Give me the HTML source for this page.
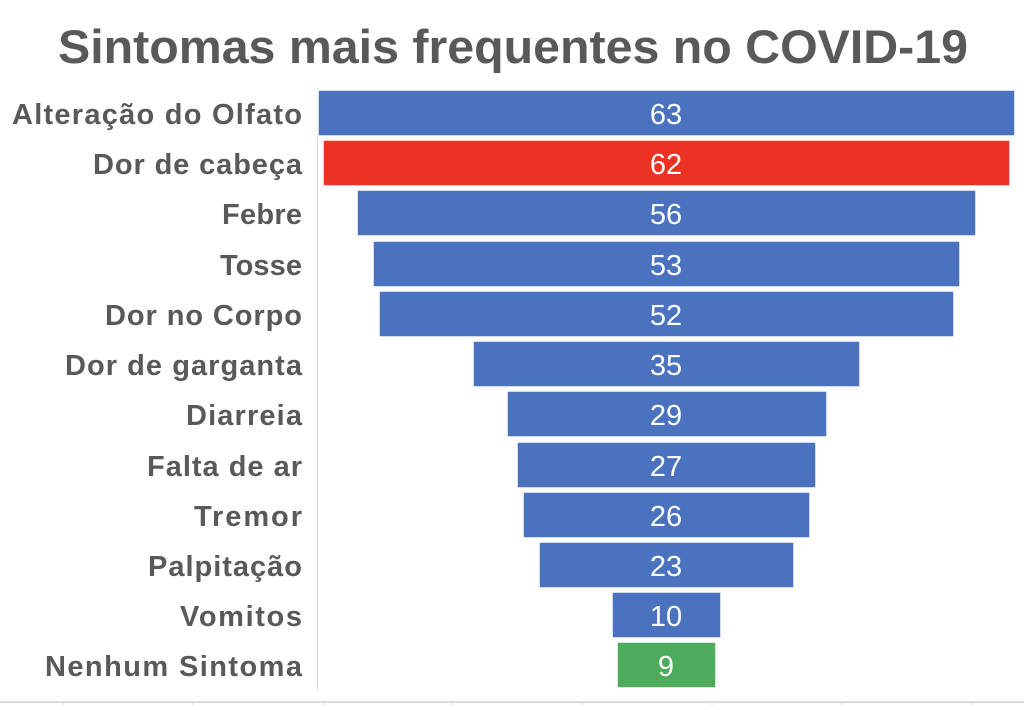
<!DOCTYPE html>
<html><head><meta charset="utf-8"><style>
body{margin:0;width:1024px;height:705px;background:#fff;overflow:hidden;font-family:"Liberation Sans",sans-serif}
</style></head><body>
<svg width="1024" height="705" xmlns="http://www.w3.org/2000/svg">
<text x="58" y="63" textLength="910" lengthAdjust="spacingAndGlyphs" font-family="Liberation Sans" font-weight="bold" font-size="47" fill="#595959">Sintomas mais frequentes no COVID-19</text>
<line x1="317.5" y1="88" x2="317.5" y2="690" stroke="#d9d9d9" stroke-width="1"/>
<line x1="0" y1="702" x2="1024" y2="702" stroke="#d9d9d9" stroke-width="2"/>
<g stroke="#d9d9d9" stroke-width="1">
<line x1="63" y1="702" x2="63" y2="705"/><line x1="193" y1="702" x2="193" y2="705"/><line x1="323" y1="702" x2="323" y2="705"/><line x1="453" y1="702" x2="453" y2="705"/><line x1="582" y1="702" x2="582" y2="705"/><line x1="712" y1="702" x2="712" y2="705"/><line x1="842" y1="702" x2="842" y2="705"/><line x1="972" y1="702" x2="972" y2="705"/>
</g>
<g font-family="Liberation Sans" font-weight="bold" font-size="29" fill="#595959" lengthAdjust="spacingAndGlyphs">
<text x="12" y="124" textLength="290">Alteração do Olfato</text>
<text x="93" y="174" textLength="209">Dor de cabeça</text>
<text x="222" y="224" textLength="80">Febre</text>
<text x="220" y="275" textLength="82">Tosse</text>
<text x="105" y="325" textLength="197">Dor no Corpo</text>
<text x="65" y="375" textLength="237">Dor de garganta</text>
<text x="186" y="425" textLength="116">Diarreia</text>
<text x="147" y="476" textLength="155">Falta de ar</text>
<text x="194" y="526" textLength="108">Tremor</text>
<text x="148" y="576" textLength="154">Palpitação</text>
<text x="180" y="626" textLength="122">Vomitos</text>
<text x="45" y="676" textLength="257">Nenhum Sintoma</text>
</g>
<g stroke="#fff" stroke-width="1.5">
<rect x="318" y="90" width="697" height="46" fill="#4a72be"/>
<rect x="323" y="140" width="687" height="46" fill="#eb3223"/>
<rect x="357" y="190" width="619" height="46" fill="#4a72be"/>
<rect x="373" y="241" width="587" height="46" fill="#4a72be"/>
<rect x="379" y="291" width="575" height="46" fill="#4a72be"/>
<rect x="473" y="341" width="387" height="46" fill="#4a72be"/>
<rect x="507" y="391" width="320" height="46" fill="#4a72be"/>
<rect x="517" y="442" width="299" height="46" fill="#4a72be"/>
<rect x="523" y="492" width="287" height="46" fill="#4a72be"/>
<rect x="539" y="542" width="255" height="46" fill="#4a72be"/>
<rect x="612" y="592" width="109" height="46" fill="#4a72be"/>
<rect x="617" y="642" width="99" height="46" fill="#4eab5b"/>
</g>
<g font-family="Liberation Sans" font-size="29" fill="#fff" text-anchor="middle">
<text x="666" y="124">63</text>
<text x="666" y="174">62</text>
<text x="666" y="224">56</text>
<text x="666" y="275">53</text>
<text x="666" y="325">52</text>
<text x="666" y="375">35</text>
<text x="666" y="425">29</text>
<text x="666" y="476">27</text>
<text x="666" y="526">26</text>
<text x="666" y="576">23</text>
<text x="666" y="626">10</text>
<text x="666" y="676">9</text>
</g>
</svg>
</body></html>
